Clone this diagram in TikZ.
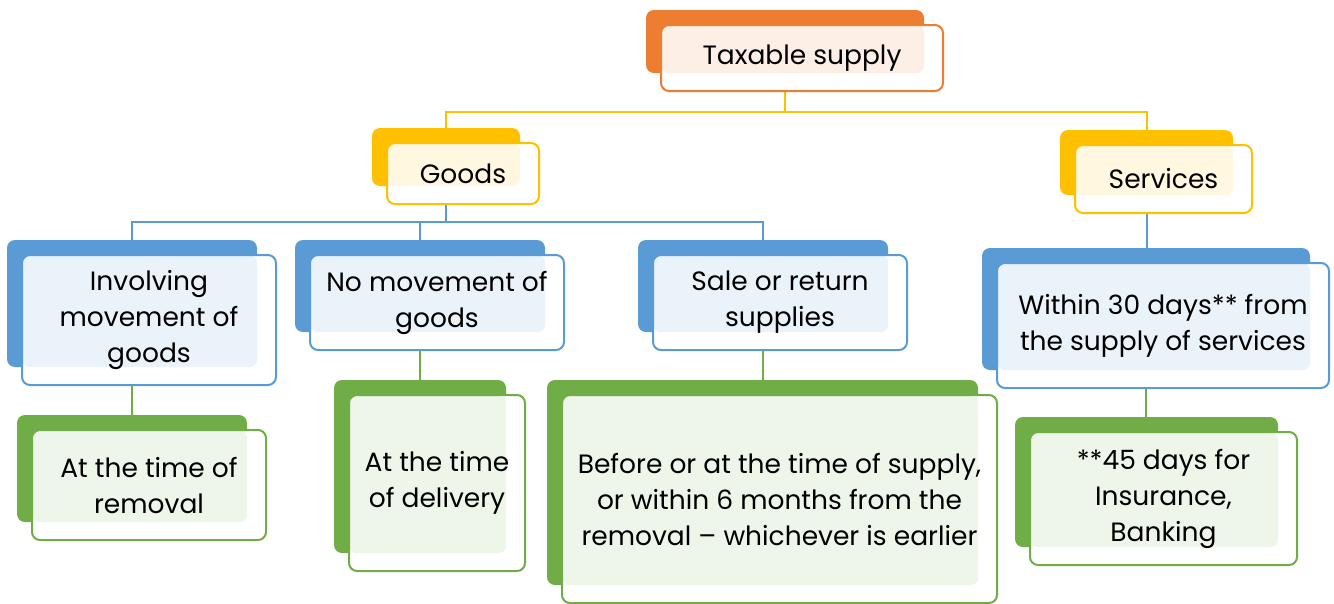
\documentclass[tikz,border=0pt]{standalone}
\usepackage{fontspec}
\setmainfont{Poppins}
\usetikzlibrary{fit, positioning}
\definecolor{accentorange}{RGB}{237,125,49}
\definecolor{accentgold}{RGB}{255,192,0}
\definecolor{accentblue}{RGB}{91,155,213}
\definecolor{accentgreen}{RGB}{112,173,71}
\pgfdeclarelayer{bg}
\pgfsetlayers{bg,main}

\tikzset{
  backbox/.style={fill=#1, rounded corners=8pt, inner sep=0pt},
  frontbox/.style={draw=#1, fill=white, line width=2pt, rounded corners=8pt, inner sep=0pt},
  label text/.style={align=center, inner sep=0pt, font=\fontsize{26.5}{36}\selectfont},
  link/.style={draw=#1, line width=2pt},
}

% solid box behind, outlined box in front, tinted overlap
\newcommand{\tierbox}[7]{%
  \node[backbox=#2, fit={(#3,#4) (#5,#6)}] (#1) {};
  \node[frontbox=#2, fit={({#3+15},{#4+15}) ({#5+19},{#6+18})},
    path picture={\fill[#2!12, rounded corners=8pt]
      (path picture bounding box.north west) rectangle (#1.south east);}]
    (#1front) {};
  \node[label text] (#1text) at (#1front.center) {#7};
}

\begin{document}
\begin{tikzpicture}[x=1pt, y=-1pt]
  \useasboundingbox (0,0) rectangle (1334,603);

  % Top
  \tierbox{tax}{accentorange}{646}{10}{924}{73}{Taxable supply}

  % Goods / Services
  \tierbox{goods}{accentgold}{372}{128}{520}{186}{Goods}
  \tierbox{serv}{accentgold}{1060}{130}{1233}{195}{Services}

  % Kinds of supply
  \tierbox{inv}{accentblue}{7}{240}{257}{367}{Involving\\movement of\\goods}
  \tierbox{nomove}{accentblue}{295}{240}{545}{332}{No movement of\\goods}
  \tierbox{sale}{accentblue}{638}{240}{888}{332}{Sale or return\\supplies}
  \tierbox{within}{accentblue}{982}{248}{1310}{370}{Within 30 days** from\\the supply of services}

  % Time of supply
  \tierbox{removal}{accentgreen}{17}{415}{247}{522}{At the time of\\removal}
  \tierbox{delivery}{accentgreen}{334}{380}{506}{553}{At the time\\of delivery}
  \tierbox{earlier}{accentgreen}{547}{380}{978}{585}{Before or at the time of supply,\\or within 6 months from the\\removal – whichever is earlier}
  \tierbox{banking}{accentgreen}{1015}{417}{1278}{547}{**45 days for\\Insurance,\\Banking}

  % Connectors
  \begin{pgfonlayer}{bg}
    \draw[link=accentgold] (tax.south) -- ++(0,39) -| (goods.north);
    \draw[link=accentgold] (tax.south) -- ++(0,39) -| (serv.north);
    \draw[link=accentblue] (goods.south) -- ++(0,36) -| (inv.north);
    \draw[link=accentblue] (goods.south) -- ++(0,36) -| (nomove.north);
    \draw[link=accentblue] (goods.south) -- ++(0,36) -| (sale.north);
    \draw[link=accentblue] (serv.south) -- (serv.south |- within.north);
    \draw[link=accentgreen] (inv.south) -- (inv.south |- removal.north);
    \draw[link=accentgreen] (nomove.south) -- (nomove.south |- delivery.north);
    \draw[link=accentgreen] (sale.south) -- (sale.south |- earlier.north);
    \draw[link=accentgreen] (within.south) -- (within.south |- banking.north);
  \end{pgfonlayer}
\end{tikzpicture}
\end{document}
